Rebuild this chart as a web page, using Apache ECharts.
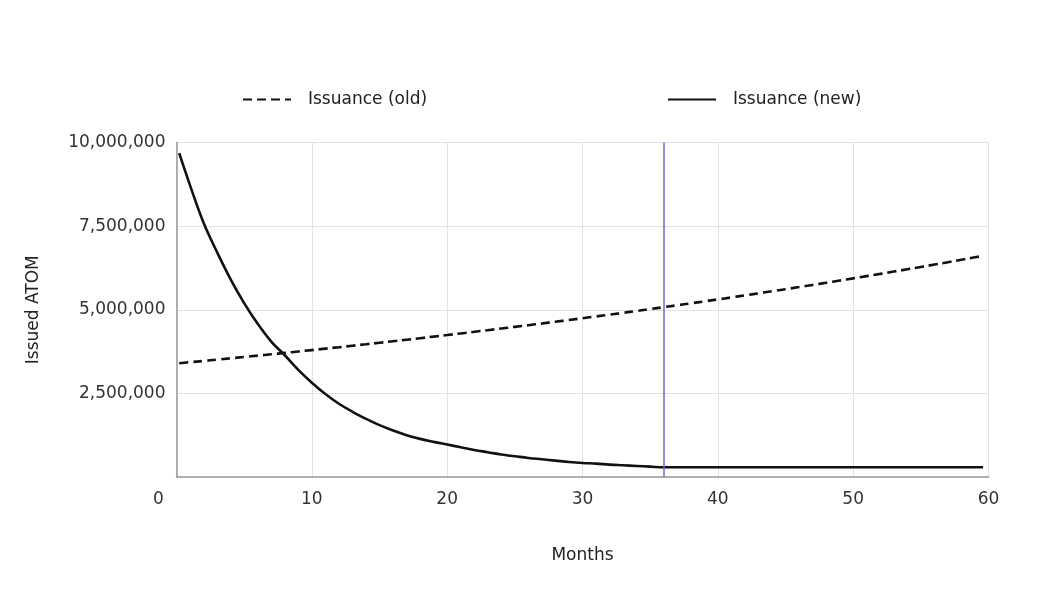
<!DOCTYPE html>
<html>
<head>
<meta charset="utf-8">
<script src="https://cdn.jsdelivr.net/npm/echarts@6/dist/echarts.min.js"></script>
<style>
html, body { margin: 0; padding: 0; background: #ffffff; }
#chart { width: 1050px; height: 600px; }
</style>
</head>
<body>
<div id="chart"></div>
<script>
// Months (x values)
const months = [0.2, 1, 2, 3, 4, 5, 6, 7, 8, 9, 10, 11, 12, 13, 14, 15, 16, 17, 18, 19, 20,
  21, 22, 23, 24, 25, 26, 27, 28, 29, 30, 31, 32, 33, 34, 35, 36, 37, 38, 39, 40,
  41, 42, 43, 44, 45, 46, 47, 48, 49, 50, 51, 52, 53, 54, 55, 56, 57, 58, 59, 59.6];

// Issued ATOM, old schedule
const issuanceOld = [3400000, 3431000, 3469000, 3508000, 3548000, 3588000, 3628000, 3669000, 3710000, 3752000, 3794000,
  3837000, 3880000, 3924000, 3968000, 4013000, 4058000, 4104000, 4150000, 4197000, 4244000,
  4292000, 4340000, 4389000, 4439000, 4489000, 4539000, 4590000, 4642000, 4694000, 4747000,
  4800000, 4854000, 4909000, 4964000, 5020000, 5077000, 5134000, 5192000, 5250000, 5309000,
  5369000, 5429000, 5490000, 5552000, 5615000, 5678000, 5742000, 5806000, 5872000, 5938000,
  6005000, 6072000, 6141000, 6210000, 6280000, 6350000, 6422000, 6494000, 6567000, 6611000];

// Issued ATOM, new schedule
const issuanceNew = [9680000, 8720000, 7600000, 6720000, 5910000, 5200000, 4580000, 4050000, 3640000, 3200000, 2820000,
  2480000, 2190000, 1950000, 1740000, 1550000, 1390000, 1250000, 1140000, 1050000, 970000,
  890000, 810000, 740000, 670000, 620000, 570000, 530000, 490000, 450000, 420000,
  400000, 370000, 350000, 330000, 310000, 290000, 290000, 290000, 290000, 290000,
  290000, 290000, 290000, 290000, 290000, 290000, 290000, 290000, 290000, 290000,
  290000, 290000, 290000, 290000, 290000, 290000, 290000, 290000, 290000, 290000];

const seriesNames = ['Issuance (old)', 'Issuance (new)'];
const markerMonth = 36;
const xTicks = [0, 10, 20, 30, 40, 50, 60];
const yTicks = [0, 2500000, 5000000, 7500000, 10000000];

const FONT = 'DejaVu Sans';
const chart = echarts.init(document.getElementById('chart'), null, { renderer: 'canvas' });

const pair = (xs, ys) => xs.map((x, i) => [x, ys[i]]);
const fmt = v => String(v).replace(/\B(?=(\d{3})+(?!\d))/g, ',');

const legendBase = {
  top: 86,
  itemWidth: 48, itemHeight: 14,
  itemStyle: { opacity: 0 },
  textStyle: { fontFamily: FONT, fontSize: 17, color: '#222', padding: [0, 0, 0, 12] }
};

chart.setOption({
  animation: false,
  backgroundColor: '#ffffff',
  legend: [
    Object.assign({}, legendBase, { data: [seriesNames[0]], left: 237 }),
    Object.assign({}, legendBase, { data: [seriesNames[1]], left: 662 })
  ],
  grid: { left: 176.5, right: 61.5, top: 142.5, bottom: 123, containLabel: false },
  xAxis: {
    type: 'value',
    min: xTicks[0], max: xTicks[xTicks.length - 1], interval: 10,
    name: 'Months', nameLocation: 'middle', nameGap: 70,
    nameTextStyle: { fontFamily: FONT, fontSize: 17, color: '#222' },
    axisLine: { show: true, lineStyle: { color: '#9a9a9a', width: 1.5 } },
    axisTick: { show: false },
    splitLine: { show: true, lineStyle: { color: '#e2e2e2', width: 1 } },
    axisLabel: {
      margin: 14,
      fontFamily: FONT, fontSize: 17, color: '#333',
      formatter: v => v === 0 ? '{z|0}' : String(v),
      rich: { z: { fontFamily: FONT, fontSize: 17, color: '#333', padding: [0, 36, 0, 0] } }
    }
  },
  yAxis: {
    type: 'value',
    min: yTicks[0], max: yTicks[yTicks.length - 1], interval: 2500000,
    name: 'Issued ATOM', nameLocation: 'middle', nameGap: 134, nameRotate: 90,
    nameTextStyle: { fontFamily: FONT, fontSize: 17, color: '#222' },
    axisLine: { show: true, lineStyle: { color: '#9a9a9a', width: 1.5 } },
    axisTick: { show: false },
    splitLine: { show: true, lineStyle: { color: '#e2e2e2', width: 1 } },
    axisLabel: {
      margin: 11,
      fontFamily: FONT, fontSize: 17, color: '#333',
      formatter: v => v === 0 ? '' : fmt(v)
    }
  },
  series: [
    {
      name: seriesNames[0],
      type: 'line',
      data: pair(months, issuanceOld),
      showSymbol: false, symbol: 'none',
      smooth: 0.4,
      lineStyle: { color: '#111', width: 2.6, type: [9, 5] },
      itemStyle: { color: '#111' },
      z: 3
    },
    {
      name: seriesNames[1],
      type: 'line',
      data: pair(months, issuanceNew),
      showSymbol: false, symbol: 'none',
      smooth: 0.4,
      lineStyle: { color: '#111', width: 2.6, type: 'solid' },
      itemStyle: { color: '#111' },
      z: 3,
      markLine: {
        silent: true,
        symbol: ['none', 'none'],
        label: { show: false },
        lineStyle: { color: '#6c6ad6', width: 1.5, type: 'solid' },
        data: [{ xAxis: markerMonth }]
      }
    }
  ]
});
</script>
</body>
</html>
